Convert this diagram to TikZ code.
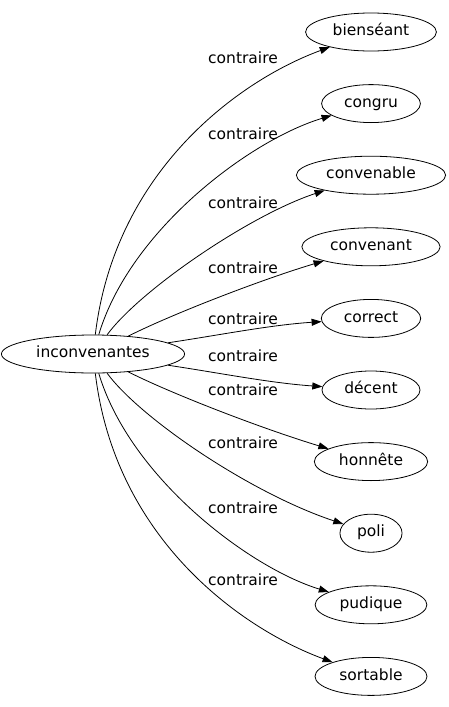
\documentclass[tikz,border=0pt]{standalone}
\usepackage{fontspec}
\setmainfont{DejaVu Sans}
\usetikzlibrary{shapes.geometric,arrows.meta}
\begin{document}
\begin{tikzpicture}[x=1pt,y=-1pt,
  vnode/.style={ellipse,draw,line width=0.8pt,inner xsep=8pt,inner ysep=0pt,
    minimum height=38pt,font=\fontsize{15.5}{18}\selectfont,text height=11pt,text depth=3.5pt},
  elab/.style={font=\fontsize{15.5}{18}\selectfont,inner sep=0pt,text height=11pt,text depth=3.5pt},
  carc/.style={line width=0.8pt,-{Triangle[length=10pt,width=7pt]}}]
\useasboundingbox (0,0) rectangle (448,707);
\node[vnode] (src) at (93,354) {inconvenantes};
\node[vnode] (n1) at (371,32) {bienséant};
\node[vnode] (n2) at (371,103.6) {congru};
\node[vnode] (n3) at (371,175.2) {convenable};
\node[vnode] (n4) at (371,246.8) {convenant};
\node[vnode] (n5) at (371,318.4) {correct};
\node[vnode] (n6) at (371,390) {décent};
\node[vnode] (n7) at (371,461.6) {honnête};
\node[vnode] (n8) at (371,533.2) {poli};
\node[vnode] (n9) at (371,604.8) {pudique};
\node[vnode] (n10) at (371,676.4) {sortable};
\draw[carc] (src) .. controls (115,170) and (240,80) .. (n1);
\draw[carc] (src) .. controls (130,230) and (250,140) .. (n2);
\draw[carc] (src) .. controls (140,290) and (250,215) .. (n3);
\draw[carc] (src) .. controls (170,315) and (260,280) .. (n4);
\draw[carc] (src) .. controls (220,335) and (270,325) .. (n5);
\draw[carc] (src) .. controls (220,373) and (270,383) .. (n6);
\draw[carc] (src) .. controls (170,393) and (260,428) .. (n7);
\draw[carc] (src) .. controls (140,418) and (250,493) .. (n8);
\draw[carc] (src) .. controls (130,478) and (250,568) .. (n9);
\draw[carc] (src) .. controls (115,538) and (240,628) .. (n10);
\node[elab] (l1) at (243,60) {contraire};
\node[elab] (l2) at (243,136) {contraire};
\node[elab] (l3) at (243,205) {contraire};
\node[elab] (l4) at (243,270) {contraire};
\node[elab] (l5) at (243,321) {contraire};
\node[elab] (l6) at (243,358) {contraire};
\node[elab] (l7) at (243,392) {contraire};
\node[elab] (l8) at (243,445) {contraire};
\node[elab] (l9) at (243,510) {contraire};
\node[elab] (l10) at (243,582) {contraire};
\end{tikzpicture}
\end{document}
